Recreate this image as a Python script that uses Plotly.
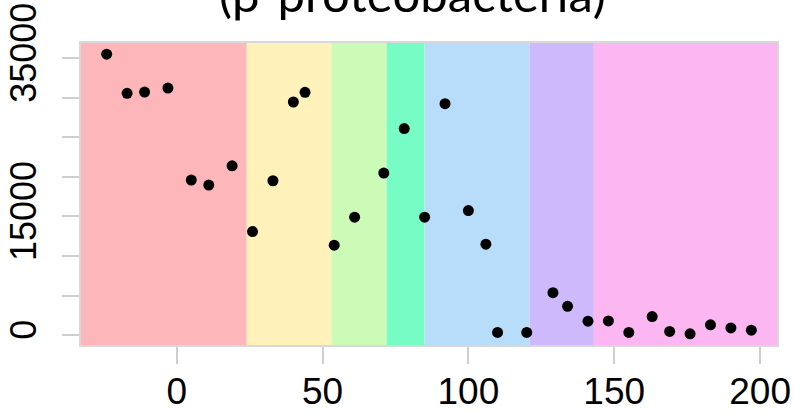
import plotly.graph_objects as go

# Data
x_vals = [-24, -17, -11, -3, 5, 11, 19, 26, 33, 40, 44, 54, 61, 71, 78, 85,
          92, 100, 106, 110, 120, 129, 134, 141, 148, 155, 163, 169, 176, 183, 190, 197]
y_vals = [35500, 30560, 30720, 31220, 19600, 18970, 21400, 13090, 19510, 29460, 30680,
          11370, 14900, 20480, 26100, 14900, 29250, 15740, 11500, 340, 340, 5370, 3650,
          1760, 1800, 340, 2350, 470, 170, 1300, 920, 630]

band_edges = [-40, 24, 53, 72, 85, 121, 143, 215]
band_colors = ["#FDB7BA", "#FEF1B9", "#CCFBB8", "#78FCC6", "#B8DDFA", "#CDB9FB", "#FCB6F1"]

x_tickvals = [0, 50, 100, 150, 200]
x_ticktext = ["0", "50", "100", "150", "200"]
y_tickvals = [0, 5000, 10000, 15000, 20000, 25000, 30000, 35000]
y_ticktext = ["0", "", "", "15000", "", "", "", "35000"]
title_text = "(β-proteobacteria)"

fig = go.Figure()

shapes = []
for i, c in enumerate(band_colors):
    shapes.append(dict(type="rect", xref="x", yref="paper",
                       x0=band_edges[i], x1=band_edges[i + 1], y0=0, y1=1,
                       fillcolor=c, line=dict(width=0), layer="below"))

fig.add_trace(go.Scatter(x=x_vals, y=y_vals, mode="markers",
                         marker=dict(color="black", size=11),
                         showlegend=False, hoverinfo="skip"))

x_font = dict(family="Liberation Sans, Arial, sans-serif", size=37, color="black")
y_font = dict(family="Liberation Sans, Arial, sans-serif", size=36, color="black")

fig.update_layout(
    width=794, height=413,
    margin=dict(l=81, r=17, t=43, b=68),
    paper_bgcolor="white", plot_bgcolor="white",
    shapes=shapes,
    xaxis=dict(range=[-32.8, 205.8], tickvals=x_tickvals, ticktext=x_ticktext,
               showgrid=False, zeroline=False, ticks="outside", ticklen=17,
               tickcolor="#CFCFCF", tickwidth=1.5, tickfont=x_font,
               showline=True, mirror=True, linecolor="#D8D8D8", linewidth=1.5,
               ticklabelstandoff=-4, automargin=False),
    yaxis=dict(range=[-1243, 36913], tickvals=y_tickvals, ticktext=y_ticktext,
               showgrid=False, zeroline=False, ticks="outside", ticklen=17,
               tickcolor="#CFCFCF", tickwidth=1.5, tickfont=y_font, tickangle=-90,
               showline=True, mirror=True, linecolor="#D8D8D8", linewidth=1.5,
               ticklabelstandoff=12, automargin=False),
    annotations=[dict(text=title_text, xref="paper", yref="paper",
                      x=0.4756, y=1, yshift=19, xanchor="center", yanchor="bottom",
                      showarrow=False,
                      font=dict(family="Lato, Open Sans, sans-serif", size=49, color="black"))],
)

fig.write_html("out.html")
